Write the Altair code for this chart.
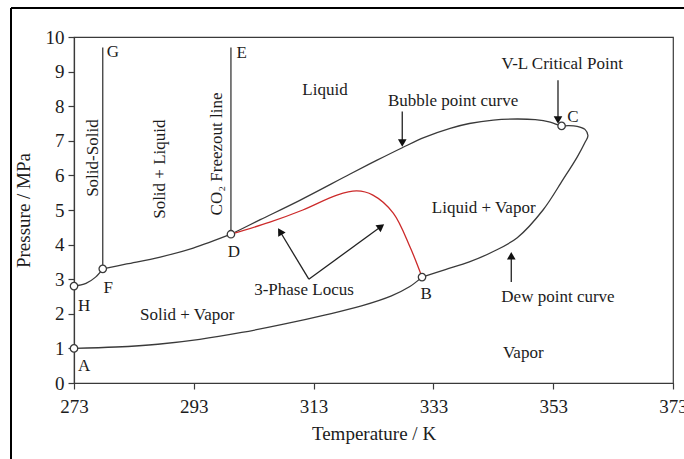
import altair as alt
import pandas as pd

FONT = "Liberation Serif"
INK = "#1c1c1c"
LINE = "#3a3a3a"
RED = "#cc2a2a"

# --- phase boundary curves (Temperature K, Pressure MPa) ---
lower_T = [273.0, 280.0, 287.0, 294.0, 301.0, 308.0, 315.0, 321.0, 326.0, 329.0, 331.1]
lower_P = [1.00, 1.04, 1.12, 1.26, 1.46, 1.70, 1.97, 2.23, 2.52, 2.78, 3.06]

envelope_T = [331.1, 335.0, 339.0, 343.0, 347.0, 351.3, 354.6, 357.0, 358.3, 358.8, 358.3,
              357.0, 355.5, 354.4, 352.5, 350.0, 347.0, 343.0, 339.0, 335.8, 331.5, 327.8,
              323.6, 319.1, 310.7, 304.1, 299.2]
envelope_P = [3.06, 3.28, 3.50, 3.80, 4.20, 5.00, 5.87, 6.53, 6.95, 7.15, 7.33,
              7.42, 7.44, 7.43, 7.54, 7.61, 7.63, 7.60, 7.50, 7.36, 7.10, 6.80,
              6.44, 6.04, 5.28, 4.72, 4.30]

h_to_f_T = [273.0, 275.0, 276.6, 277.8]
h_to_f_P = [2.80, 2.88, 3.06, 3.30]

f_to_d_T = [277.8, 281.8, 287.4, 292.9, 299.2]
f_to_d_P = [3.30, 3.44, 3.64, 3.90, 4.30]

locus_T = [299.2, 305.7, 311.2, 316.9, 320.2, 322.9, 326.3, 329.1, 331.1]
locus_P = [4.30, 4.65, 5.00, 5.43, 5.55, 5.43, 4.91, 3.93, 3.06]

solid_solid_T = [277.8, 277.8]
solid_solid_P = [3.30, 9.70]
freezout_T = [299.2, 299.2]
freezout_P = [4.30, 9.70]

# --- labelled points ---
pt_name = ["A", "H", "F", "D", "B", "C"]
pt_T = [273.0, 273.0, 277.8, 299.2, 331.1, 354.4]
pt_P = [1.00, 2.80, 3.30, 4.30, 3.06, 7.43]

letter_name = ["A", "H", "F", "D", "B", "C", "G", "E"]
letter_T = [274.7, 274.7, 278.7, 299.7, 331.8, 356.3, 279.5, 301.0]
letter_P = [0.49, 2.23, 2.75, 3.79, 2.57, 7.69, 9.57, 9.54]

# --- region and curve captions ---
cap_text = ["Liquid", "Bubble point curve", "V-L Critical Point", "Liquid + Vapor",
            "Dew point curve", "Vapor", "Solid + Vapor", "3-Phase Locus"]
cap_T = [314.9, 336.3, 354.5, 341.4, 353.8, 348.0, 291.9, 311.4]
cap_P = [8.47, 8.15, 9.22, 5.06, 2.49, 0.87, 1.97, 2.69]

vcap_text = ["Solid-Solid", "Solid + Liquid", "CO\u2082 Freezout line"]
vcap_T = [276.2, 287.4, 296.9]
vcap_P = [6.50, 6.18, 6.62]

# --- annotation arrows: stem start/end and head ---
arr_T0 = [327.8, 353.8, 346.0, 312.2, 312.2]
arr_P0 = [7.85, 8.75, 2.92, 3.00, 3.00]
arr_T1 = [327.8, 353.8, 346.0, 307.5, 324.1]
arr_P1 = [6.97, 7.64, 3.64, 4.35, 4.50]
arr_ang = [180, 180, 0, 329, 54]

x_ticks = [273, 293, 313, 333, 353, 373]
y_ticks = [0, 1, 2, 3, 4, 5, 6, 7, 8, 9, 10]

rows = []
for name, ts, ps in [("lower", lower_T, lower_P), ("envelope", envelope_T, envelope_P),
                     ("h_to_f", h_to_f_T, h_to_f_P), ("f_to_d", f_to_d_T, f_to_d_P),
                     ("locus", locus_T, locus_P),
                     ("solid_solid", solid_solid_T, solid_solid_P),
                     ("freezout", freezout_T, freezout_P)]:
    for i, (t, p) in enumerate(zip(ts, ps)):
        rows.append({"curve": name, "seq": i, "T": t, "P": p})
curves = pd.DataFrame(rows)

points = pd.DataFrame({"name": pt_name, "T": pt_T, "P": pt_P})
letters = pd.DataFrame({"name": letter_name, "T": letter_T, "P": letter_P})
caps = pd.DataFrame({"text": cap_text, "T": cap_T, "P": cap_P})
vcaps = pd.DataFrame({"text": vcap_text, "T": vcap_T, "P": vcap_P})
arrows = pd.DataFrame({"T0": arr_T0, "P0": arr_P0, "T1": arr_T1, "P1": arr_P1, "ang": arr_ang})

xscale = alt.Scale(domain=[273, 373], nice=False, zero=False)
yscale = alt.Scale(domain=[0, 10], nice=False, zero=False)

x_axis = alt.Axis(values=x_ticks, grid=False, tickSize=6, labelPadding=8, titlePadding=8,
                  format="d", labelFlush=False, labelOverlap=False)
y_axis = alt.Axis(values=y_ticks, grid=False, tickSize=6, labelPadding=4, titlePadding=12,
                  format="d", labelFlush=False, labelOverlap=False, tickCount=11)


def X(field):
    # every layer carries the same temperature axis so the merged axis keeps its ticks
    return alt.X(field, type="quantitative", scale=xscale, axis=x_axis, title="Temperature / K")


def Y(field):
    return alt.Y(field, type="quantitative", scale=yscale, axis=y_axis, title="Pressure  / MPa")


curve_names = ["lower", "envelope", "h_to_f", "f_to_d", "locus", "solid_solid", "freezout"]
curve_colors = [LINE, LINE, LINE, LINE, RED, LINE, LINE]

lines = alt.Chart(curves).mark_line(interpolate="catmull-rom", strokeWidth=1.3).encode(
    x=X("T"), y=Y("P"), order="seq:Q",
    color=alt.Color("curve:N", scale=alt.Scale(domain=curve_names, range=curve_colors),
                    legend=None),
)

stems = alt.Chart(arrows).mark_rule(color="#222", strokeWidth=1.3).encode(
    x=X("T0"), y=Y("P0"), x2="T1:Q", y2="P1:Q")

heads = alt.Chart(arrows).mark_point(shape="triangle", filled=True, color="#111",
                                     size=75, opacity=1).encode(
    x=X("T1"), y=Y("P1"), angle=alt.Angle("ang:Q", scale=None))

circles = alt.Chart(points).mark_point(shape="circle", filled=True, fill="white",
                                       stroke=LINE, strokeWidth=1.3, size=55,
                                       opacity=1).encode(x=X("T"), y=Y("P"))

letter_text = alt.Chart(letters).mark_text(font=FONT, fontSize=17, color=INK).encode(
    x=X("T"), y=Y("P"), text="name:N")

cap_layer = alt.Chart(caps).mark_text(font=FONT, fontSize=17, color=INK).encode(
    x=X("T"), y=Y("P"), text="text:N")

vcap_layer = alt.Chart(vcaps).mark_text(font=FONT, fontSize=17, color=INK, angle=270).encode(
    x=X("T"), y=Y("P"), text="text:N")

# outer page frame around the figure
frame = pd.DataFrame({"k": [0]})
frame_left = alt.Chart(frame).mark_rule(color="black", strokeWidth=2).encode(
    x=alt.value(-63), y=alt.value(-29), y2=alt.value(440))
frame_top = alt.Chart(frame).mark_rule(color="black", strokeWidth=2).encode(
    x=alt.value(-63), x2=alt.value(640), y=alt.value(-29))

chart = alt.layer(
    lines, stems, heads, circles, letter_text, cap_layer, vcap_layer, frame_left, frame_top
).properties(
    width=599, height=346,
    autosize=alt.AutoSizeParams(type="none"),
    padding={"left": 74, "top": 37, "right": 11, "bottom": 76},
    background="white",
).configure_view(
    stroke=LINE, strokeWidth=1.2
).configure_axis(
    labelFont=FONT, titleFont=FONT, labelFontSize=19, titleFontSize=19,
    labelColor=INK, titleColor=INK, titleFontWeight="normal",
    domainColor=LINE, tickColor=LINE, domainWidth=1.2, tickWidth=1.2,
)

chart.save("out.html", embed_options={"renderer": "svg", "actions": False})
